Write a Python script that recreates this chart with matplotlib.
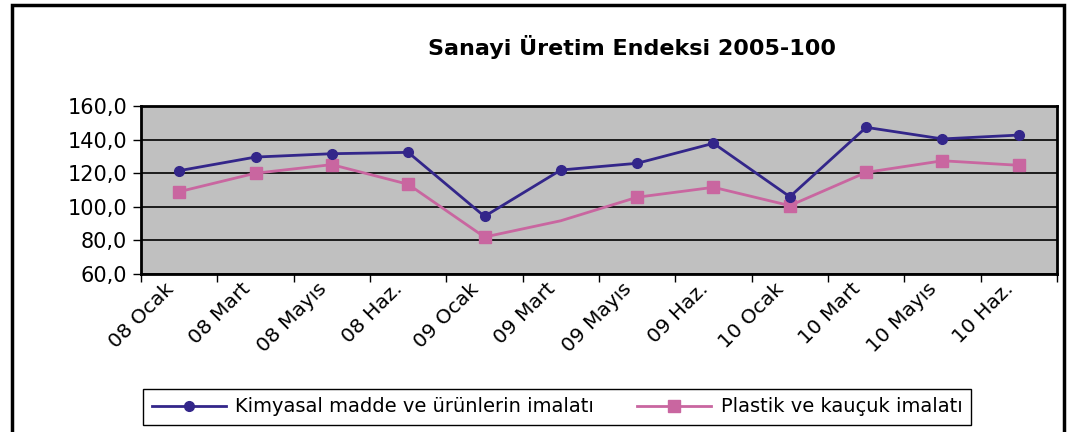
import matplotlib
matplotlib.use("Agg")
import matplotlib.pyplot as plt
from matplotlib.patches import Rectangle
import numpy as np

categories = ["08 Ocak", "08 Mart", "08 Mayıs", "08 Haz.", "09 Ocak", "09 Mart",
              "09 Mayıs", "09 Haz.", "10 Ocak", "10 Mart", "10 Mayıs", "10 Haz."]
kimyasal = [121.5, 129.6, 131.6, 132.4, 94.3, 121.9, 125.9, 137.8, 106.0, 147.3, 140.4, 142.7]
plastik = [109.0, 120.0, 125.1, 113.4, 82.0, 91.7, 105.7, 111.6, 100.7, 120.5, 127.4, 124.7]
plastik_marked = [0, 1, 2, 3, 4, 6, 7, 8, 9, 10, 11]  # 09 Mart drawn without marker
y_ticks = [60, 80, 100, 120, 140, 160]

plt.rcParams["font.family"] = ["DejaVu Sans"]

fig = plt.figure(figsize=(10.74, 4.32), dpi=100)
ax = fig.add_axes([141 / 1074, 158 / 432, 916 / 1074, 168 / 432])
ax.set_facecolor("#c0c0c0")

x = np.arange(len(categories))
ax.plot(x, kimyasal, color="#33268a", lw=2, marker="o", markersize=7,
        label="Kimyasal madde ve ürünlerin imalatı", zorder=4)
ax.plot(x, plastik, color="#c966a0", lw=2, marker="s", markersize=9,
        markevery=plastik_marked, label="Plastik ve kauçuk imalatı", zorder=3)

ax.set_xlim(-0.5, len(categories) - 0.5)
ax.set_ylim(60, 160)
ax.set_yticks(y_ticks)
ax.set_yticklabels([f"{v:.1f}".replace(".", ",") for v in y_ticks], fontsize=15)
ax.yaxis.grid(True, color="black", lw=1.2)
ax.set_axisbelow(True)

# category boundaries carry the tick marks; rotated labels end a bit left of centre
ax.set_xticks(np.arange(len(categories) + 1) - 0.5)
ax.set_xticklabels([])
ax.set_xticks(x - 0.2, minor=True)
ax.set_xticklabels(categories, minor=True, rotation=45, ha="right",
                   rotation_mode="anchor", fontsize=14.5)
ax.tick_params(axis="x", which="minor", length=0, pad=4)
ax.tick_params(axis="x", which="major", length=6, width=1, direction="out")
ax.tick_params(axis="y", length=6, width=1, direction="out", pad=4)
for s in ax.spines.values():
    s.set_linewidth(2)

fig.text(632 / 1074, 1 - 47 / 432, "Sanayi Üretim Endeksi 2005-100",
         ha="center", va="center", fontsize=16, fontweight="bold")

leg = fig.legend(loc="center", bbox_to_anchor=(557 / 1074, 1 - 407 / 432), ncol=2,
                 fontsize=14, fancybox=False, edgecolor="black", framealpha=1,
                 handlelength=3.8, columnspacing=2.2, borderpad=0.45,
                 borderaxespad=0, handletextpad=0.5)
leg.get_frame().set_linewidth(1)

# outer chart frame
fig.patches.append(Rectangle((12 / 1074, -0.1), 1052 / 1074, 1.1 - 5 / 432,
                             transform=fig.transFigure, fill=False,
                             edgecolor="black", lw=2.5))

fig.savefig("out.png", dpi=100)
